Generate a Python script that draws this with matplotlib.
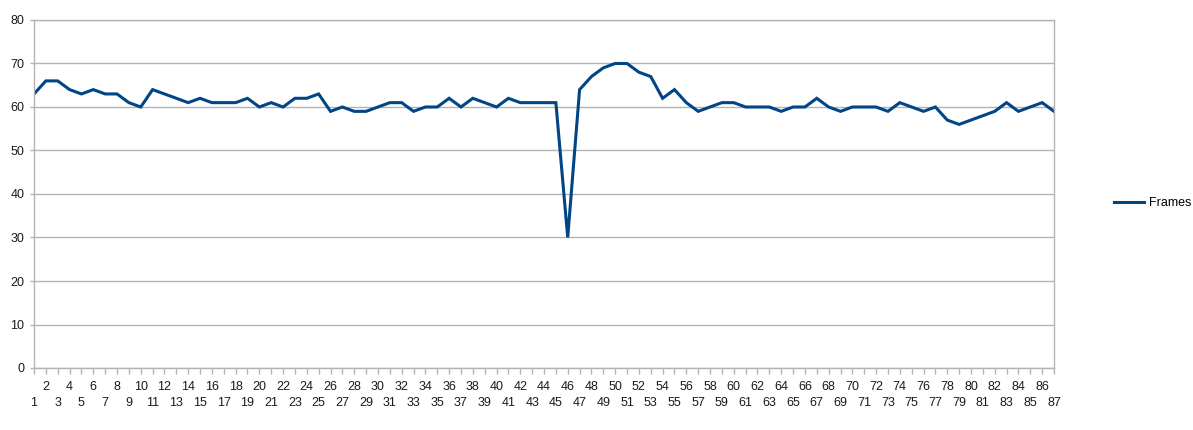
import matplotlib
matplotlib.use('Agg')
import matplotlib.pyplot as plt

plt.rcParams['font.family'] = ['Liberation Sans', 'DejaVu Sans']

frame_no = list(range(1, 88))
frames = [63, 66, 66, 64, 63, 64, 63, 63, 61, 60,
          64, 63, 62, 61, 62, 61, 61, 61, 62, 60,
          61, 60, 62, 62, 63, 59, 60, 59, 59, 60,
          61, 61, 59, 60, 60, 62, 60, 62, 61, 60,
          62, 61, 61, 61, 61, 30, 64, 67, 69, 70,
          70, 68, 67, 62, 64, 61, 59, 60, 61, 61,
          60, 60, 60, 59, 60, 60, 62, 60, 59, 60,
          60, 60, 59, 61, 60, 59, 60, 57, 56, 57,
          58, 59, 61, 59, 60, 61, 59]
y_ticks = list(range(0, 81, 10))

grid_col = '#b3b3b3'
line_col = '#004586'

fig = plt.figure(figsize=(11.93, 4.30), dpi=100)
ax = fig.add_axes([34 / 1193, 1 - 368 / 430, 1020 / 1193, 348 / 430])

ax.plot(frame_no, frames, color=line_col, linewidth=2.2, label='Frames',
        solid_joinstyle='miter')

ax.set_xlim(frame_no[0], frame_no[-1])
ax.set_ylim(0, 80)
ax.set_yticks(y_ticks)
ax.yaxis.grid(True, color=grid_col, linewidth=1)
ax.set_axisbelow(True)

# staggered category labels: even numbers on the upper row, odd below
even = [n for n in frame_no if n % 2 == 0]
odd = [n for n in frame_no if n % 2 == 1]
ax.set_xticks(even)
ax.set_xticklabels([str(n) for n in even])
ax.set_xticks(odd, minor=True)
ax.set_xticklabels([str(n) for n in odd], minor=True)

ax.tick_params(axis='x', which='major', length=4, width=1, color=grid_col,
               pad=5, labelsize=9, labelcolor='#1a1a1a')
ax.tick_params(axis='x', which='minor', length=4, width=1, color=grid_col,
               pad=17, labelsize=9, labelcolor='#1a1a1a')
ax.tick_params(axis='y', length=3, width=1, color=grid_col, pad=4,
               labelsize=9, labelcolor='#1a1a1a')

for side in ['left', 'bottom', 'right', 'top']:
    ax.spines[side].set_color(grid_col)
    ax.spines[side].set_linewidth(1)

fig.legend(loc='center left', bbox_to_anchor=(1114 / 1193, 1 - 203 / 430),
           frameon=False, fontsize=9, handlelength=2.4, handletextpad=0.4,
           borderpad=0, borderaxespad=0)

fig.savefig('out.png', dpi=100)
